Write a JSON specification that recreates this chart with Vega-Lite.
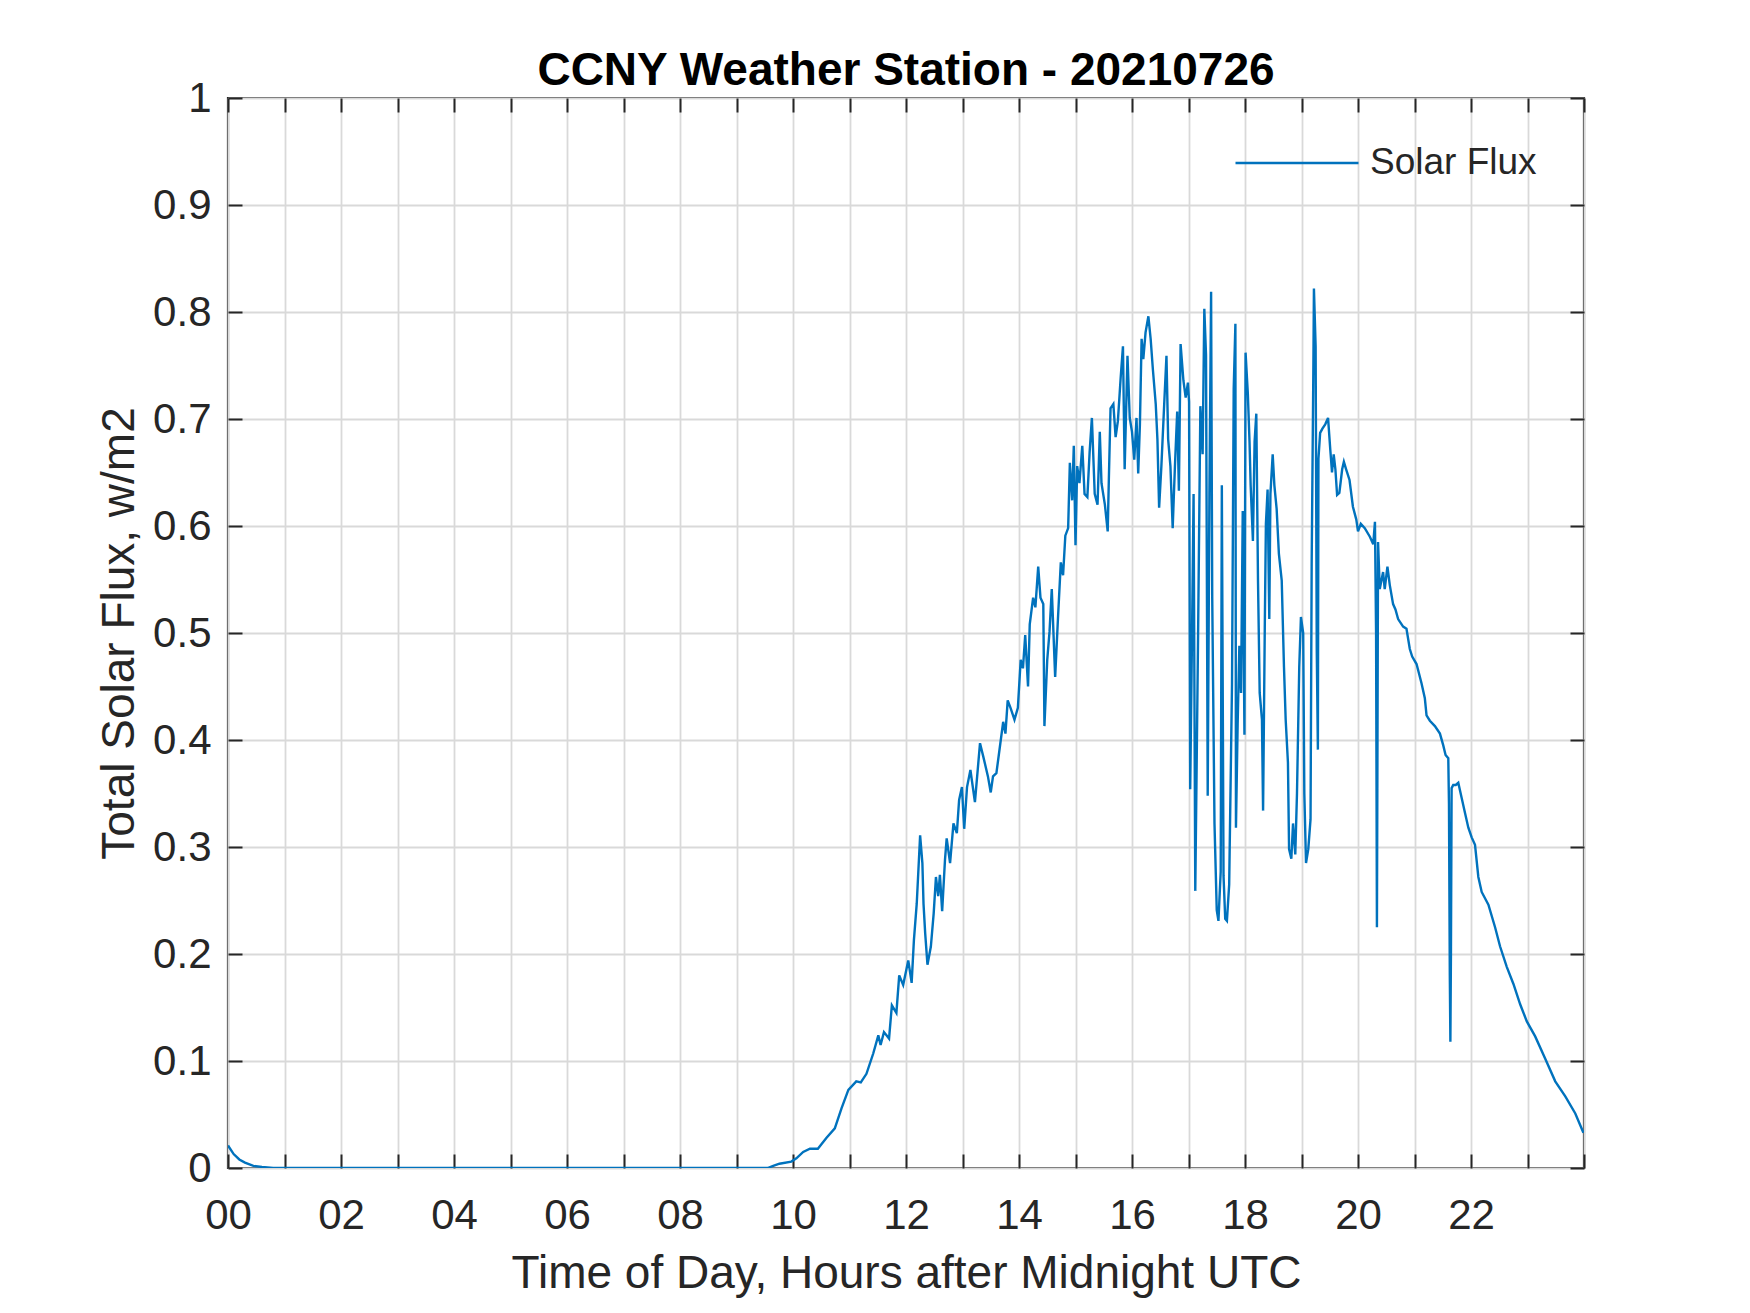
{
  "$schema": "https://vega.github.io/schema/vega-lite/v6.json",
  "width": 1356,
  "height": 1070,
  "autosize": {"type": "none"},
  "padding": {"left": 228, "top": 98, "right": 166, "bottom": 145},
  "background": "white",
  "title": {
    "text": "CCNY Weather Station - 20210726",
    "font": "Liberation Sans",
    "fontSize": 46,
    "fontWeight": "bold",
    "color": "#000000",
    "anchor": "middle",
    "frame": "group",
    "baseline": "alphabetic",
    "offset": -54
  },
  "config": {
    "view": {"stroke": "#262626", "strokeWidth": 2.2},
    "axis": {
      "domain": false,
      "tickColor": "#262626",
      "tickWidth": 2,
      "tickSize": -14,
      "gridColor": "#d9d9d9",
      "gridWidth": 1.8,
      "labelFont": "Liberation Sans",
      "labelFontSize": 42,
      "labelColor": "#262626",
      "titleFont": "Liberation Sans",
      "titleFontSize": 46,
      "titleFontWeight": "normal",
      "titleColor": "#262626",
      "labelFlush": false,
      "labelOverlap": false
    }
  },
  "data": {
    "values": [
      {"t": 0, "v": 0.021}, {"t": 0.1, "v": 0.013}, {"t": 0.2, "v": 0.008}, {"t": 0.3, "v": 0.005},
      {"t": 0.45, "v": 0.002}, {"t": 0.6, "v": 0.001}, {"t": 0.8, "v": 0}, {"t": 9.55, "v": 0},
      {"t": 9.65, "v": 0.002}, {"t": 9.76, "v": 0.004}, {"t": 9.97, "v": 0.006}, {"t": 10.06, "v": 0.009},
      {"t": 10.18, "v": 0.015}, {"t": 10.3, "v": 0.018}, {"t": 10.44, "v": 0.018}, {"t": 10.59, "v": 0.028},
      {"t": 10.74, "v": 0.037}, {"t": 10.86, "v": 0.056}, {"t": 10.98, "v": 0.073}, {"t": 11.12, "v": 0.081},
      {"t": 11.2, "v": 0.08}, {"t": 11.3, "v": 0.088}, {"t": 11.42, "v": 0.107}, {"t": 11.51, "v": 0.124},
      {"t": 11.55, "v": 0.115}, {"t": 11.61, "v": 0.127}, {"t": 11.7, "v": 0.121}, {"t": 11.75, "v": 0.152},
      {"t": 11.83, "v": 0.145}, {"t": 11.88, "v": 0.18}, {"t": 11.95, "v": 0.171}, {"t": 12.04, "v": 0.194},
      {"t": 12.1, "v": 0.173}, {"t": 12.14, "v": 0.213}, {"t": 12.19, "v": 0.247}, {"t": 12.25, "v": 0.311},
      {"t": 12.29, "v": 0.285}, {"t": 12.31, "v": 0.247}, {"t": 12.34, "v": 0.219}, {"t": 12.38, "v": 0.19},
      {"t": 12.44, "v": 0.207}, {"t": 12.49, "v": 0.238}, {"t": 12.53, "v": 0.272}, {"t": 12.57, "v": 0.254},
      {"t": 12.6, "v": 0.274}, {"t": 12.64, "v": 0.24}, {"t": 12.69, "v": 0.288}, {"t": 12.72, "v": 0.308},
      {"t": 12.78, "v": 0.285}, {"t": 12.84, "v": 0.322}, {"t": 12.9, "v": 0.313}, {"t": 12.94, "v": 0.344},
      {"t": 12.99, "v": 0.356}, {"t": 13.03, "v": 0.317}, {"t": 13.08, "v": 0.356}, {"t": 13.14, "v": 0.372},
      {"t": 13.22, "v": 0.342}, {"t": 13.31, "v": 0.397}, {"t": 13.37, "v": 0.384}, {"t": 13.45, "v": 0.366},
      {"t": 13.5, "v": 0.351}, {"t": 13.54, "v": 0.366}, {"t": 13.6, "v": 0.369}, {"t": 13.66, "v": 0.393},
      {"t": 13.72, "v": 0.417}, {"t": 13.76, "v": 0.406}, {"t": 13.8, "v": 0.437}, {"t": 13.85, "v": 0.43},
      {"t": 13.92, "v": 0.419}, {"t": 13.98, "v": 0.43}, {"t": 14.03, "v": 0.475}, {"t": 14.07, "v": 0.467},
      {"t": 14.11, "v": 0.498}, {"t": 14.16, "v": 0.45}, {"t": 14.19, "v": 0.508}, {"t": 14.25, "v": 0.533},
      {"t": 14.29, "v": 0.524}, {"t": 14.34, "v": 0.562}, {"t": 14.38, "v": 0.533}, {"t": 14.43, "v": 0.527},
      {"t": 14.45, "v": 0.413}, {"t": 14.5, "v": 0.475}, {"t": 14.54, "v": 0.501}, {"t": 14.58, "v": 0.541},
      {"t": 14.64, "v": 0.459}, {"t": 14.69, "v": 0.514}, {"t": 14.74, "v": 0.566}, {"t": 14.78, "v": 0.554},
      {"t": 14.82, "v": 0.591}, {"t": 14.87, "v": 0.598}, {"t": 14.9, "v": 0.659}, {"t": 14.94, "v": 0.624},
      {"t": 14.97, "v": 0.675}, {"t": 15.0, "v": 0.582}, {"t": 15.03, "v": 0.656}, {"t": 15.07, "v": 0.64},
      {"t": 15.12, "v": 0.675}, {"t": 15.16, "v": 0.63}, {"t": 15.21, "v": 0.627}, {"t": 15.25, "v": 0.669},
      {"t": 15.29, "v": 0.701}, {"t": 15.34, "v": 0.63}, {"t": 15.39, "v": 0.62}, {"t": 15.43, "v": 0.688},
      {"t": 15.46, "v": 0.64}, {"t": 15.52, "v": 0.62}, {"t": 15.57, "v": 0.595}, {"t": 15.59, "v": 0.643},
      {"t": 15.62, "v": 0.71}, {"t": 15.67, "v": 0.714}, {"t": 15.71, "v": 0.683}, {"t": 15.75, "v": 0.698},
      {"t": 15.8, "v": 0.739}, {"t": 15.84, "v": 0.768}, {"t": 15.87, "v": 0.653}, {"t": 15.92, "v": 0.759},
      {"t": 15.96, "v": 0.701}, {"t": 16.0, "v": 0.688}, {"t": 16.04, "v": 0.662}, {"t": 16.08, "v": 0.701},
      {"t": 16.11, "v": 0.649}, {"t": 16.14, "v": 0.695}, {"t": 16.17, "v": 0.775}, {"t": 16.2, "v": 0.756},
      {"t": 16.24, "v": 0.781}, {"t": 16.29, "v": 0.796}, {"t": 16.33, "v": 0.775}, {"t": 16.37, "v": 0.746},
      {"t": 16.42, "v": 0.714}, {"t": 16.45, "v": 0.681}, {"t": 16.48, "v": 0.617}, {"t": 16.52, "v": 0.656},
      {"t": 16.57, "v": 0.714}, {"t": 16.61, "v": 0.759}, {"t": 16.64, "v": 0.681}, {"t": 16.68, "v": 0.656},
      {"t": 16.72, "v": 0.598}, {"t": 16.76, "v": 0.656}, {"t": 16.8, "v": 0.707}, {"t": 16.83, "v": 0.633},
      {"t": 16.86, "v": 0.77}, {"t": 16.91, "v": 0.736}, {"t": 16.95, "v": 0.72}, {"t": 16.99, "v": 0.734},
      {"t": 17.01, "v": 0.716}, {"t": 17.03, "v": 0.354}, {"t": 17.06, "v": 0.488}, {"t": 17.09, "v": 0.63},
      {"t": 17.12, "v": 0.259}, {"t": 17.17, "v": 0.5}, {"t": 17.21, "v": 0.712}, {"t": 17.25, "v": 0.667},
      {"t": 17.28, "v": 0.803}, {"t": 17.31, "v": 0.76}, {"t": 17.34, "v": 0.348}, {"t": 17.37, "v": 0.63},
      {"t": 17.4, "v": 0.819}, {"t": 17.42, "v": 0.533}, {"t": 17.46, "v": 0.322}, {"t": 17.5, "v": 0.241},
      {"t": 17.53, "v": 0.231}, {"t": 17.57, "v": 0.277}, {"t": 17.59, "v": 0.638}, {"t": 17.62, "v": 0.273},
      {"t": 17.65, "v": 0.233}, {"t": 17.68, "v": 0.231}, {"t": 17.72, "v": 0.265}, {"t": 17.77, "v": 0.452},
      {"t": 17.8, "v": 0.728}, {"t": 17.83, "v": 0.789}, {"t": 17.84, "v": 0.318}, {"t": 17.87, "v": 0.415},
      {"t": 17.9, "v": 0.488}, {"t": 17.93, "v": 0.444}, {"t": 17.96, "v": 0.614}, {"t": 17.99, "v": 0.405},
      {"t": 18.01, "v": 0.762}, {"t": 18.05, "v": 0.724}, {"t": 18.08, "v": 0.679}, {"t": 18.1, "v": 0.638},
      {"t": 18.14, "v": 0.586}, {"t": 18.17, "v": 0.679}, {"t": 18.2, "v": 0.705}, {"t": 18.23, "v": 0.549},
      {"t": 18.26, "v": 0.444}, {"t": 18.3, "v": 0.419}, {"t": 18.32, "v": 0.334}, {"t": 18.35, "v": 0.505},
      {"t": 18.37, "v": 0.602}, {"t": 18.4, "v": 0.634}, {"t": 18.43, "v": 0.513}, {"t": 18.45, "v": 0.63},
      {"t": 18.49, "v": 0.667}, {"t": 18.52, "v": 0.638}, {"t": 18.56, "v": 0.616}, {"t": 18.6, "v": 0.574},
      {"t": 18.65, "v": 0.549}, {"t": 18.69, "v": 0.468}, {"t": 18.72, "v": 0.419}, {"t": 18.76, "v": 0.379},
      {"t": 18.78, "v": 0.298}, {"t": 18.82, "v": 0.289}, {"t": 18.85, "v": 0.322}, {"t": 18.89, "v": 0.293},
      {"t": 18.92, "v": 0.35}, {"t": 18.96, "v": 0.468}, {"t": 18.99, "v": 0.515}, {"t": 19.03, "v": 0.5},
      {"t": 19.05, "v": 0.35}, {"t": 19.08, "v": 0.285}, {"t": 19.12, "v": 0.298}, {"t": 19.16, "v": 0.326},
      {"t": 19.18, "v": 0.565}, {"t": 19.21, "v": 0.748}, {"t": 19.22, "v": 0.822}, {"t": 19.25, "v": 0.768},
      {"t": 19.27, "v": 0.484}, {"t": 19.29, "v": 0.391}, {"t": 19.3, "v": 0.663}, {"t": 19.33, "v": 0.687},
      {"t": 19.37, "v": 0.691}, {"t": 19.42, "v": 0.695}, {"t": 19.47, "v": 0.701}, {"t": 19.51, "v": 0.671},
      {"t": 19.54, "v": 0.65}, {"t": 19.57, "v": 0.667}, {"t": 19.6, "v": 0.653}, {"t": 19.63, "v": 0.629},
      {"t": 19.67, "v": 0.631}, {"t": 19.72, "v": 0.653}, {"t": 19.75, "v": 0.66}, {"t": 19.79, "v": 0.653},
      {"t": 19.85, "v": 0.643}, {"t": 19.91, "v": 0.618}, {"t": 19.97, "v": 0.606}, {"t": 20.0, "v": 0.595},
      {"t": 20.05, "v": 0.602}, {"t": 20.12, "v": 0.598}, {"t": 20.21, "v": 0.59}, {"t": 20.27, "v": 0.583},
      {"t": 20.3, "v": 0.604}, {"t": 20.32, "v": 0.5}, {"t": 20.335, "v": 0.225}, {"t": 20.345, "v": 0.4},
      {"t": 20.355, "v": 0.585}, {"t": 20.385, "v": 0.541}, {"t": 20.444, "v": 0.557}, {"t": 20.473, "v": 0.541},
      {"t": 20.521, "v": 0.562}, {"t": 20.562, "v": 0.545}, {"t": 20.621, "v": 0.527}, {"t": 20.663, "v": 0.522},
      {"t": 20.71, "v": 0.513}, {"t": 20.799, "v": 0.506}, {"t": 20.858, "v": 0.504}, {"t": 20.917, "v": 0.485},
      {"t": 20.959, "v": 0.478}, {"t": 21.036, "v": 0.471}, {"t": 21.124, "v": 0.453}, {"t": 21.183, "v": 0.439},
      {"t": 21.213, "v": 0.423}, {"t": 21.272, "v": 0.418}, {"t": 21.361, "v": 0.413}, {"t": 21.45, "v": 0.406},
      {"t": 21.509, "v": 0.395}, {"t": 21.55, "v": 0.386}, {"t": 21.598, "v": 0.383}, {"t": 21.61, "v": 0.341},
      {"t": 21.625, "v": 0.18}, {"t": 21.635, "v": 0.118}, {"t": 21.645, "v": 0.2}, {"t": 21.657, "v": 0.355},
      {"t": 21.686, "v": 0.358}, {"t": 21.73, "v": 0.358}, {"t": 21.775, "v": 0.36}, {"t": 21.834, "v": 0.346},
      {"t": 21.893, "v": 0.332}, {"t": 21.953, "v": 0.318}, {"t": 22.012, "v": 0.309}, {"t": 22.071, "v": 0.302},
      {"t": 22.13, "v": 0.272}, {"t": 22.189, "v": 0.258}, {"t": 22.308, "v": 0.246}, {"t": 22.426, "v": 0.225},
      {"t": 22.515, "v": 0.207}, {"t": 22.633, "v": 0.188}, {"t": 22.751, "v": 0.172}, {"t": 22.87, "v": 0.153},
      {"t": 22.988, "v": 0.137}, {"t": 23.136, "v": 0.123}, {"t": 23.314, "v": 0.102}, {"t": 23.491, "v": 0.081},
      {"t": 23.669, "v": 0.067}, {"t": 23.846, "v": 0.051}, {"t": 23.99, "v": 0.033}
    ]
  },
  "layer": [
    {
      "mark": {"type": "line", "strokeWidth": 2.4, "clip": true},
      "encoding": {
        "x": {
          "field": "t", "type": "quantitative",
          "scale": {"domain": [0, 24], "nice": false, "zero": false},
          "axis": {
            "orient": "bottom",
            "values": [0,1,2,3,4,5,6,7,8,9,10,11,12,13,14,15,16,17,18,19,20,21,22,23,24],
            "labelExpr": "(datum.value % 2 == 0 && datum.value < 24) ? (datum.value < 10 ? '0' + datum.value : '' + datum.value) : ''",
            "grid": true,
            "labelBaseline": "top",
            "labelPadding": 41,
            "title": "Time of Day, Hours after Midnight UTC",
            "titleBaseline": "alphabetic",
            "titleY": 119
          }
        },
        "y": {
          "field": "v", "type": "quantitative",
          "scale": {"domain": [0, 1], "nice": false, "zero": false},
          "axis": {
            "orient": "left",
            "values": [0,0.1,0.2,0.3,0.4,0.5,0.6,0.7,0.8,0.9,1],
            "format": ".1~f",
            "grid": true,
            "labelPadding": 31,
            "title": "Total Solar Flux, w/m2",
            "titleBaseline": "alphabetic",
            "titleX": -95
          }
        },
        "color": {
          "datum": "Solar Flux",
          "type": "nominal",
          "scale": {"domain": ["Solar Flux"], "range": ["#0072BD"]},
          "legend": {
            "orient": "none",
            "legendX": 1006,
            "legendY": 2,
            "title": null,
            "symbolType": "stroke",
            "symbolSize": 15129,
            "symbolStrokeWidth": 2.4,
            "labelFont": "Liberation Sans",
            "labelFontSize": 37,
            "labelColor": "#262626",
            "labelOffset": 10,
            "labelLimit": 400,
            "padding": 0
          }
        }
      }
    },
    {
      "mark": {"type": "line", "opacity": 0},
      "encoding": {
        "x": {
          "field": "t", "type": "quantitative",
          "axis": {
            "orient": "top",
            "values": [0,1,2,3,4,5,6,7,8,9,10,11,12,13,14,15,16,17,18,19,20,21,22,23,24],
            "labels": false, "grid": false, "title": null
          }
        },
        "y": {
          "field": "v", "type": "quantitative",
          "axis": {
            "orient": "right",
            "values": [0,0.1,0.2,0.3,0.4,0.5,0.6,0.7,0.8,0.9,1],
            "labels": false, "grid": false, "title": null
          }
        }
      }
    }
  ],
  "resolve": {"axis": {"x": "independent", "y": "independent"}}
}
